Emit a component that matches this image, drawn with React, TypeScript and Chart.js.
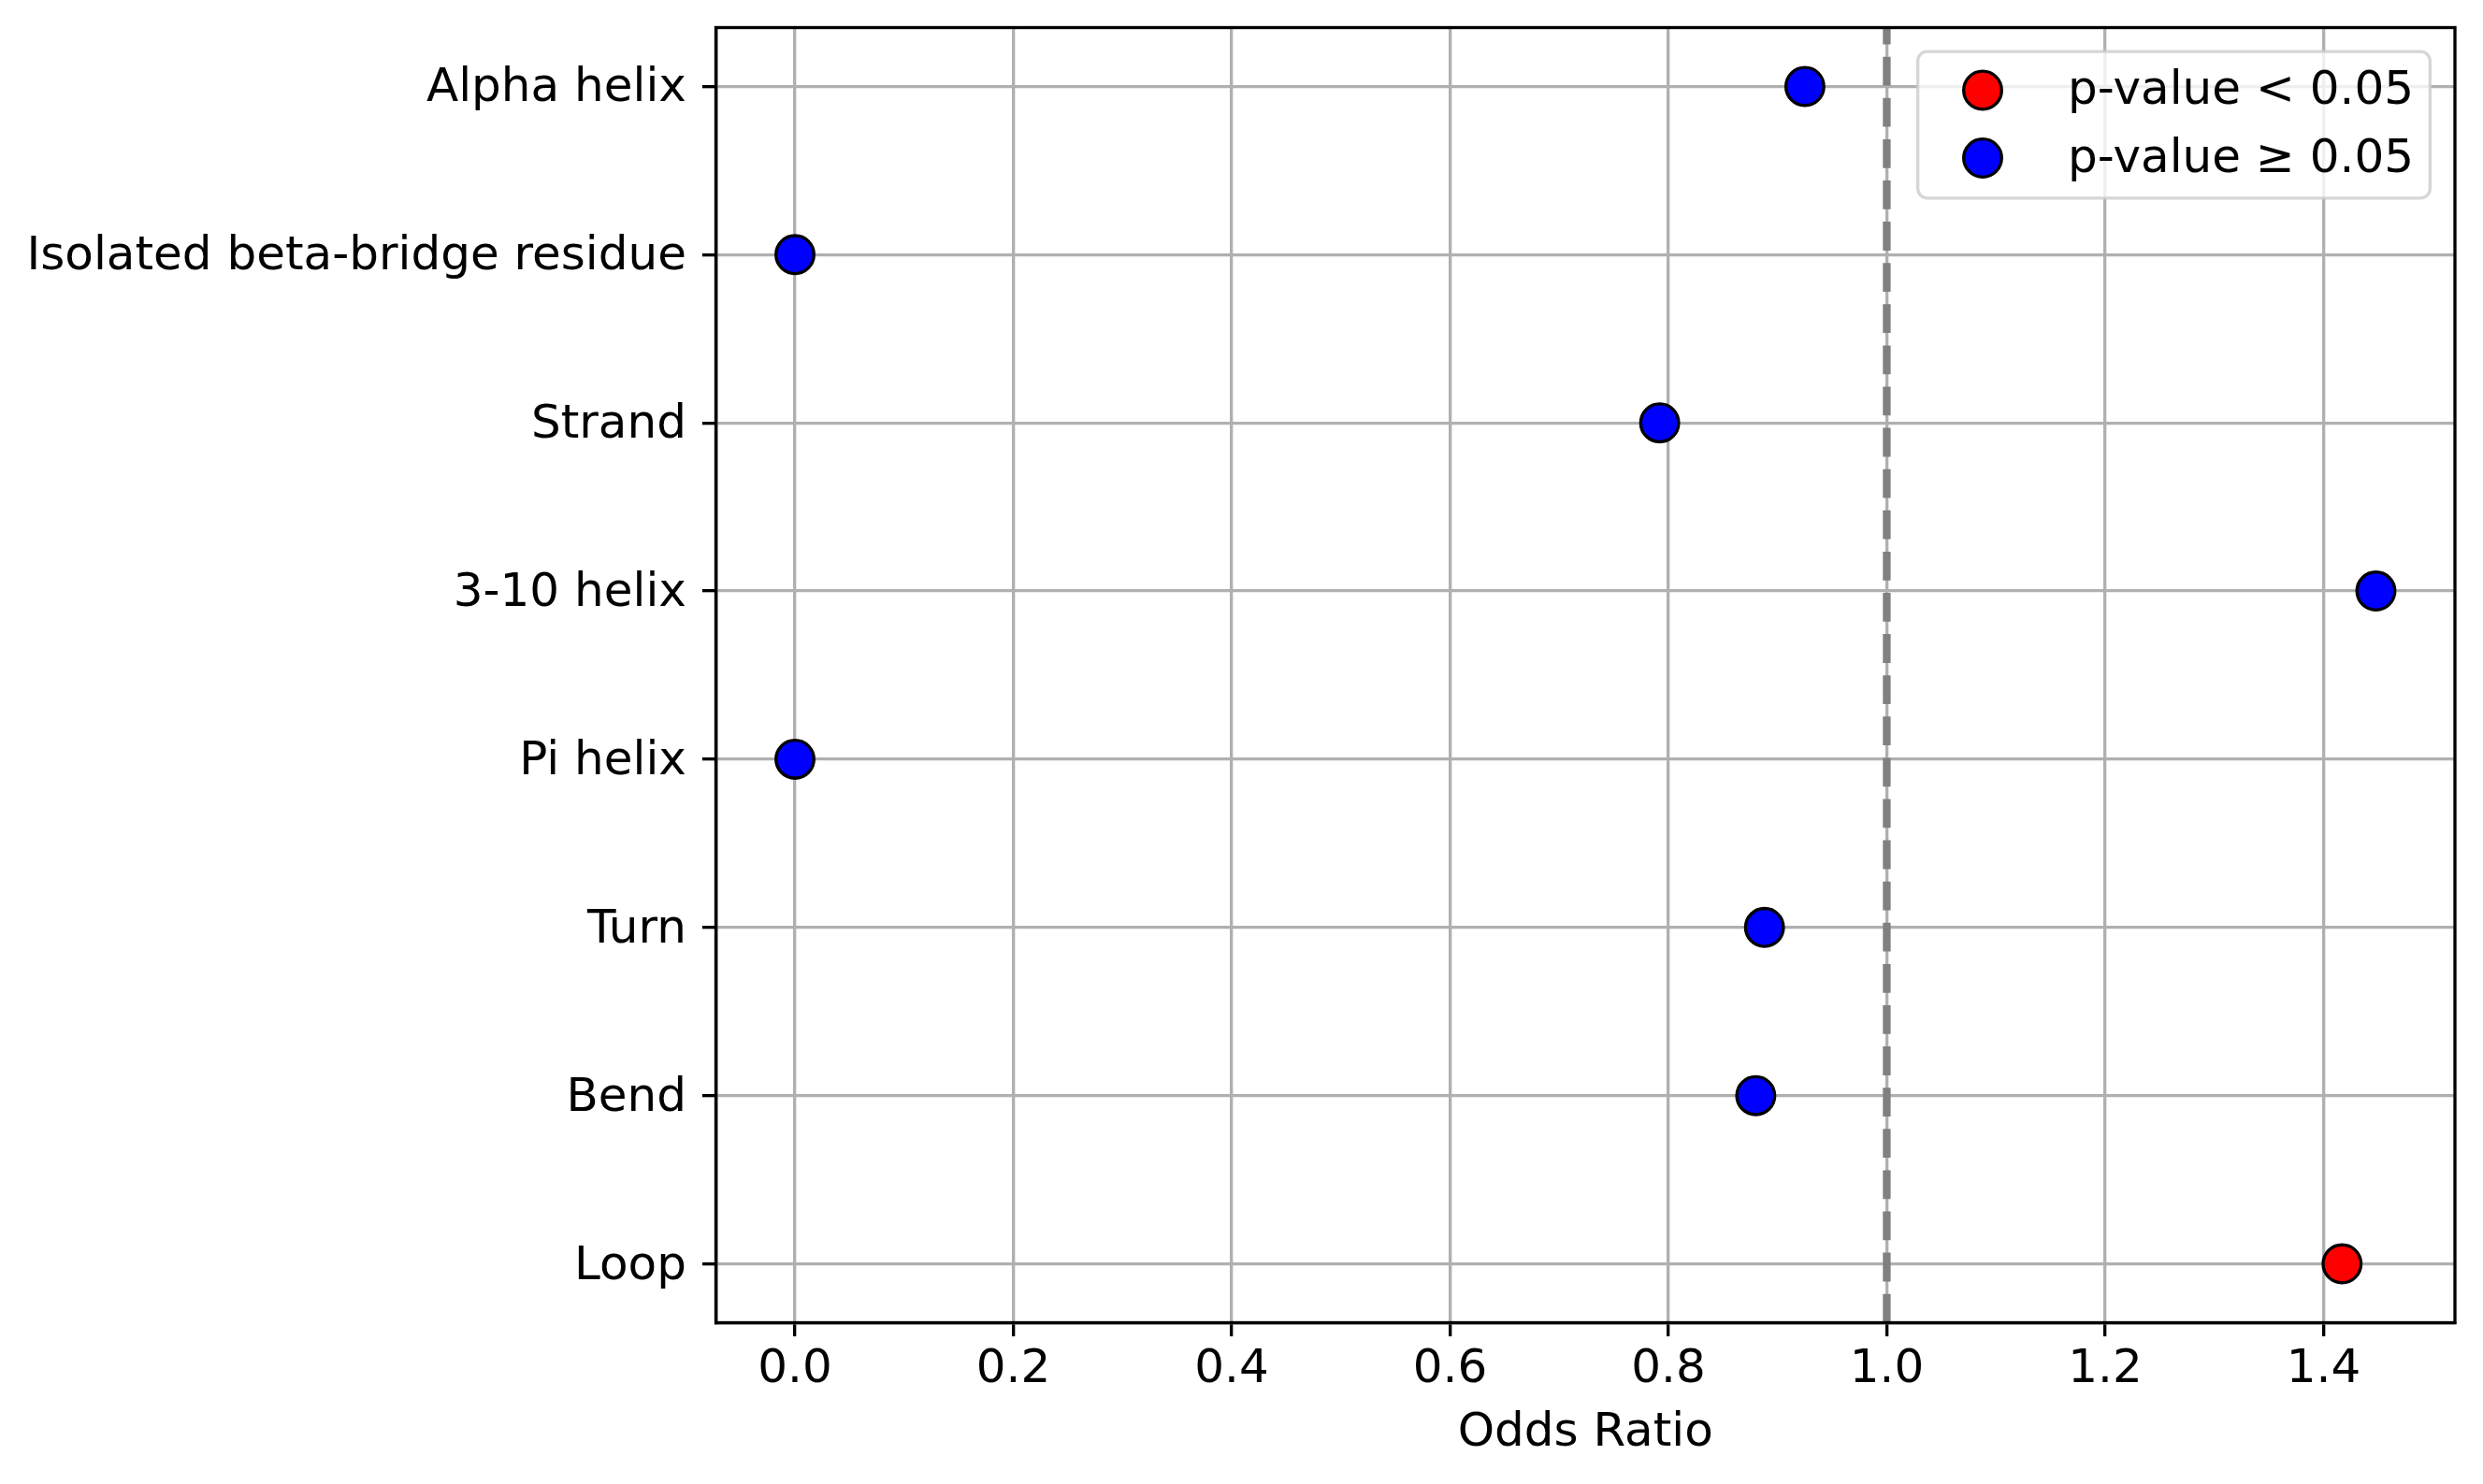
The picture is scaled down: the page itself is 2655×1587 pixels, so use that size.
import { useEffect, useRef } from "react"
import { Chart, registerables } from "chart.js"

Chart.register(...registerables)

// secondary structure classes, top to bottom
const categories = [
  "Alpha helix",
  "Isolated beta-bridge residue",
  "Strand",
  "3-10 helix",
  "Pi helix",
  "Turn",
  "Bend",
  "Loop",
]
const oddsRatios = [0.925, 0.0, 0.792, 1.448, 0.0, 0.888, 0.88, 1.417]
const significant = [false, false, false, false, false, false, false, true]
const xTicks = [0.0, 0.2, 0.4, 0.6, 0.8, 1.0, 1.2, 1.4]
const legendLabels = ["p-value < 0.05", "p-value \u2265 0.05"]
const referenceOR = 1.0

const FONT = "'DejaVu Sans', 'Liberation Sans', sans-serif"
const SIG_COLOR = "#ff0000"
const NS_COLOR = "#0000ff"
const LW = 3.33 // 0.8pt at 300 dpi

export default function App() {
  const canvasRef = useRef<HTMLCanvasElement>(null)
  const chartRef = useRef<Chart | null>(null)

  useEffect(() => {
    if (!canvasRef.current) return
    if (chartRef.current) chartRef.current.destroy()
    const ctx = canvasRef.current.getContext("2d")
    if (!ctx) return

    // matplotlib-style 5% margins
    const xMinData = Math.min(...oddsRatios)
    const xMaxData = Math.max(...oddsRatios)
    const xPad = (xMaxData - xMinData) * 0.05
    const yPad = (categories.length - 1) * 0.05

    const overlay = {
      id: "overlay",
      afterDraw(chart: any) {
        const c = chart.ctx
        const area = chart.chartArea
        const xs = chart.scales.x

        // reference line at OR = 1
        const rx = xs.getPixelForValue(referenceOR)
        c.save()
        c.strokeStyle = "#808080"
        c.lineWidth = 8.3
        c.lineCap = "butt"
        c.setLineDash([30.8, 13.3])
        c.beginPath()
        c.moveTo(rx, area.bottom)
        c.lineTo(rx, area.top)
        c.stroke()
        c.restore()

        // full frame
        c.save()
        c.strokeStyle = "#000"
        c.lineWidth = LW
        c.strokeRect(area.left, area.top, area.right - area.left, area.bottom - area.top)
        c.restore()

        // legend box, upper right
        const bw = 551
        const bh = 160
        const bx = area.right - 25 - bw
        const by = area.top + 24
        c.save()
        c.beginPath()
        c.roundRect(bx + LW / 2, by + LW / 2, bw - LW, bh - LW, 10)
        c.fillStyle = "rgba(255,255,255,0.8)"
        c.fill()
        c.strokeStyle = "rgba(204,204,204,0.8)"
        c.lineWidth = LW
        c.stroke()
        const colors = [SIG_COLOR, NS_COLOR]
        legendLabels.forEach((label, i) => {
          const cy = by + 43 + i * 72.5
          c.beginPath()
          c.arc(bx + 71, cy, 20.3, 0, Math.PI * 2)
          c.fillStyle = colors[i]
          c.fill()
          c.strokeStyle = "#000"
          c.lineWidth = LW
          c.stroke()
          c.fillStyle = "#000"
          c.font = `50px ${FONT}`
          c.textAlign = "left"
          c.textBaseline = "middle"
          c.fillText(label, bx + 162, cy + 2)
        })
        c.restore()
      },
    }

    chartRef.current = new Chart(ctx, {
      type: "scatter",
      data: {
        datasets: [
          {
            label: "Odds Ratio",
            data: oddsRatios.map((v, i) => ({ x: v, y: i })),
            pointBackgroundColor: significant.map((s) => (s ? SIG_COLOR : NS_COLOR)),
            pointBorderColor: "#000",
            pointBorderWidth: LW,
            pointRadius: 20.3,
            pointHoverRadius: 20.3,
          },
        ],
      },
      options: {
        animation: false,
        responsive: true,
        maintainAspectRatio: false,
        events: [],
        layout: { padding: { top: 29.5, right: 30, left: 0, bottom: 0 } },
        plugins: {
          legend: { display: false },
          tooltip: { enabled: false },
        },
        scales: {
          x: {
            type: "linear",
            min: xMinData - xPad,
            max: xMaxData + xPad,
            z: 1,
            afterBuildTicks: (s: any) => {
              s.ticks = xTicks.map((v) => ({ value: v }))
            },
            afterFit: (s: any) => {
              s.height = 172.5
              s.paddingLeft = 0
              s.paddingRight = 0
            },
            grid: {
              color: "#b0b0b0",
              lineWidth: LW,
              tickColor: "#000",
              tickWidth: LW,
              tickLength: 14.6,
            },
            border: { color: "#000", width: LW },
            ticks: {
              color: "#000",
              font: { family: FONT, size: 50 },
              padding: 6,
              maxRotation: 0,
              autoSkip: false,
              callback: (v: any) => Number(v).toFixed(1),
            },
            title: {
              display: true,
              text: "Odds Ratio",
              color: "#000",
              font: { family: FONT, size: 50 },
              padding: { top: 0, bottom: 24 },
            },
          },
          y: {
            type: "linear",
            reverse: true,
            min: -yPad,
            max: categories.length - 1 + yPad,
            z: 1,
            afterBuildTicks: (s: any) => {
              s.ticks = categories.map((_, i) => ({ value: i }))
            },
            afterFit: (s: any) => {
              s.width = 765.5
              s.paddingTop = 0
              s.paddingBottom = 0
            },
            grid: {
              color: "#b0b0b0",
              lineWidth: LW,
              tickColor: "#000",
              tickWidth: LW,
              tickLength: 14.6,
            },
            border: { color: "#000", width: LW },
            ticks: {
              color: "#000",
              font: { family: FONT, size: 50 },
              padding: 17,
              labelOffset: 3,
              autoSkip: false,
              callback: (v: any) => categories[Math.round(Number(v))],
            },
          },
        },
      },
      plugins: [overlay],
    })

    return () => {
      if (chartRef.current) {
        chartRef.current.destroy()
        chartRef.current = null
      }
    }
  }, [])

  return (
    <div style={{ position: "absolute", left: 0, top: 0, width: 2655, height: 1587, background: "#fff" }}>
      <canvas ref={canvasRef} />
    </div>
  )
}
